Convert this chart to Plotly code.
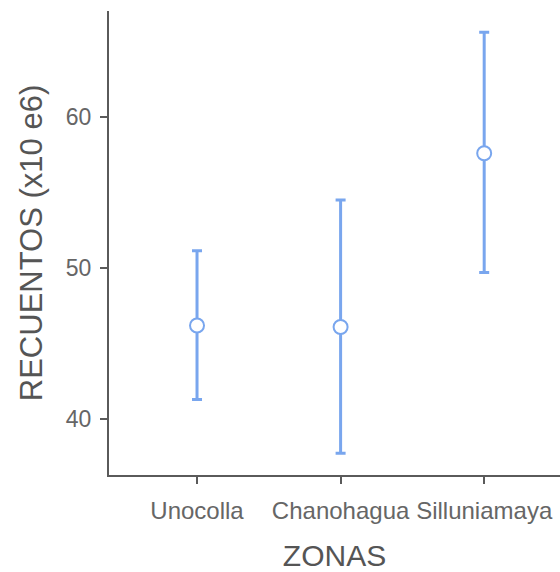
import plotly.graph_objects as go

zonas = ["Unocolla", "Chanohagua", "Silluniamaya"]
media = [46.2, 46.1, 57.6]
superior = [51.15, 54.5, 65.6]
inferior = [41.3, 37.75, 49.7]
y_ticks = [40, 50, 60]

color = "#79a6ee"
axis_col = "#5a5a5a"
font = "Liberation Sans, Arial, sans-serif"

err_plus = [s - m for s, m in zip(superior, media)]
err_minus = [m - i for m, i in zip(media, inferior)]

fig = go.Figure()
fig.add_trace(go.Scatter(
    x=zonas, y=media, mode="markers",
    marker=dict(symbol="circle", size=14, color="white",
                line=dict(color=color, width=2)),
    error_y=dict(type="data", symmetric=False, array=err_plus,
                 arrayminus=err_minus, color=color, thickness=3, width=5),
    showlegend=False,
))

fig.update_layout(
    width=560, height=572,
    margin=dict(l=109, r=0, t=11, b=97),
    paper_bgcolor="white", plot_bgcolor="white",
    font=dict(family=font, color="#666666"),
    xaxis=dict(
        type="category", range=[-0.613, 2.528],
        showline=True, linecolor=axis_col, linewidth=2,
        ticks="outside", ticklen=7, tickwidth=2, tickcolor=axis_col,
        showgrid=False, zeroline=False,
        tickfont=dict(size=24, color="#666666"),
        ticklabelstandoff=6,
        title=dict(text="ZONAS", font=dict(size=30, color="#555555"), standoff=24),
    ),
    yaxis=dict(
        range=[36.31, 67.01], tickvals=y_ticks,
        showline=True, linecolor=axis_col, linewidth=2,
        ticks="outside", ticklen=7, tickwidth=2, tickcolor=axis_col,
        showgrid=False, zeroline=False,
        tickfont=dict(size=23, color="#666666"),
        ticklabelstandoff=4,
        title=dict(text="RECUENTOS (x10 e6)", font=dict(size=31, color="#555555"), standoff=14),
    ),
)

fig.write_html("out.html")
